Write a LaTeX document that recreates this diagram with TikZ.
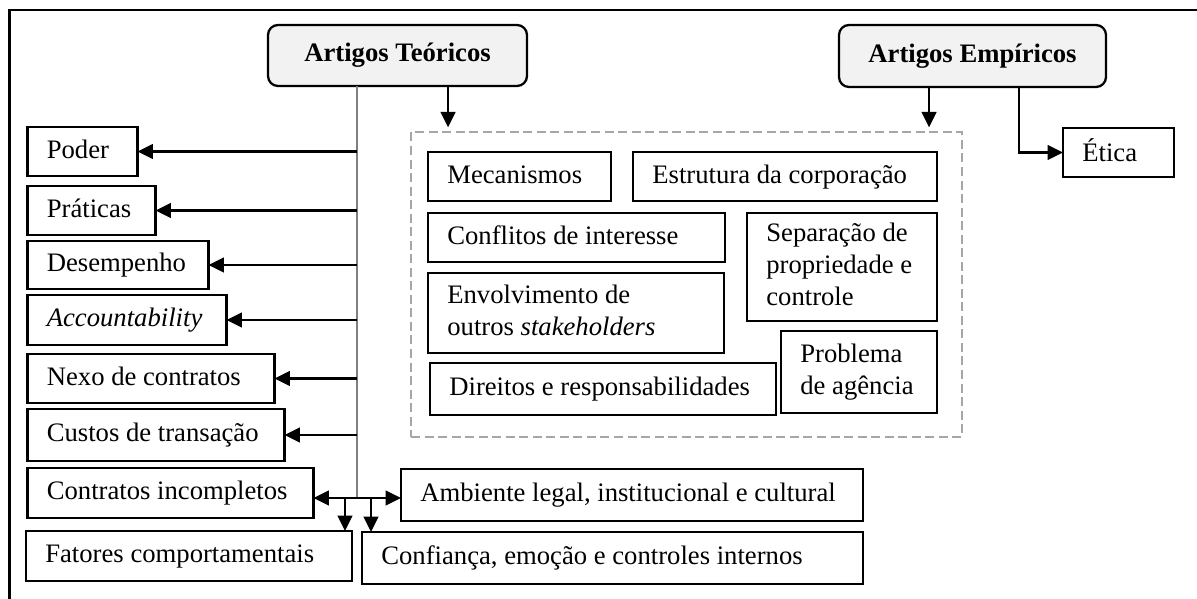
\documentclass[tikz,border=0pt]{standalone}
\usepackage{fontspec}
\setmainfont{Liberation Serif}[ItalicFont={Liberation Serif Italic},BoldFont={Liberation Serif Bold}]
\usetikzlibrary{arrows.meta}
\definecolor{hdfill}{HTML}{F2F2F2}
\definecolor{linegray}{HTML}{7F7F7F}
\definecolor{dashgray}{HTML}{A6A6A6}
\newcommand{\bst}{\rule[-4pt]{0pt}{18.2pt}}
\newcommand{\lb}[2]{\makebox[#1pt][l]{\bst #2}}
\newcommand{\mlb}[2]{\makebox[#1pt][l]{\begin{tabular}{@{}l@{}}#2\end{tabular}}}
\begin{document}
\begin{tikzpicture}[x=0.75pt,y=-0.75pt,
  every node/.style={font=\fontsize{20}{24}\selectfont},
  bx/.style={draw, line width=1.7pt, inner xsep=14.5pt, inner ysep=0pt, outer sep=0pt, anchor=north west, minimum height=36.75pt},
  hd/.style={draw, line width=1.7pt, rounded corners=7.5pt, fill=hdfill, inner sep=0pt, outer sep=0pt, anchor=north west, font=\fontsize{20}{24}\selectfont\bfseries},
  arr/.style={line width=1.6pt, -{Triangle[length=11.5pt,width=11pt]}},
  vline/.style={line width=1pt, draw=linegray},
  grpbox/.style={draw=dashgray, line width=1.6pt, dash pattern=on 6.75pt off 3.4pt, anchor=north west, inner sep=0pt, outer sep=0pt}
]
\useasboundingbox (0,0) rectangle (1197,599);
% frame
\draw[line width=1.7pt] (9.6,599) -- (9.6,10) -- (1197,10);

% headers
\node[hd, minimum width=194.25pt, minimum height=45.75pt] (teor) at (268,25) {\strut Artigos Teóricos};
\node[hd, minimum width=200.25pt, minimum height=46.5pt] (empir) at (839,25) {\strut Artigos Empíricos};

% group box
\node[grpbox, minimum width=413.25pt, minimum height=228.75pt] (grp) at (411,132) {};

% left column
\node[bx] (poder) at (27.5,127) {\lb{53.5}{Poder}};
\node[bx] (praticas) at (27.5,186) {\lb{67}{Práticas}};
\node[bx, minimum height=36pt] (desemp) at (27.5,241) {\lb{106.75}{Desempenho}};
\node[bx, minimum height=37.5pt] (account) at (27.5,295) {\lb{120.25}{\textit{Accountability}}};
\node[bx] (nexo) at (27.5,354) {\lb{156.25}{Nexo de contratos}};
\node[bx, minimum height=39pt] (custos) at (27.5,409) {\lb{163.75}{Custos de transação}};
\node[bx, minimum height=37.5pt] (contratos) at (27.5,468) {\lb{185.5}{Contratos incompletos}};
\node[bx, minimum height=37.5pt] (fatores) at (26,531) {\lb{215.5}{Fatores comportamentais}};
\node[bx, minimum height=39pt] (confianca) at (362,532) {\lb{346.75}{Confiança, emoção e controles internos}};
\node[bx, minimum height=39pt] (ambiente) at (401,469) {\lb{317.5}{Ambiente legal, institucional e cultural}};

% group contents
\node[bx] (mecan) at (428,152) {\lb{108.25}{Mecanismos}};
\node[bx] (estrut) at (633,152) {\lb{199}{Estrutura da corporação}};
\node[bx] (conflit) at (428,213) {\lb{193.75}{Conflitos de interesse}};
\node[bx, minimum height=81pt] (separ) at (747,213) {\mlb{113.5}{Separação de\\propriedade e\\controle}};
\node[bx, minimum height=60pt] (envol) at (428,273) {\mlb{193}{Envolvimento de\\outros \textit{stakeholders}}};
\node[bx, minimum height=39pt] (direit) at (430,363) {\lb{230.5}{Direitos e responsabilidades}};
\node[bx, minimum height=61.5pt] (problema) at (781,331) {\mlb{88}{Problema\\de agência}};

% etica
\node[bx] (etica) at (1063,128) {\lb{54.25}{Ética}};

% connectors
\coordinate (vbot) at (357,498);
\coordinate (a1) at (448,0);
\coordinate (a2) at (929,0);
\coordinate (ec) at (1019,0);
\coordinate (d1) at (345,498);
\coordinate (d2) at (371,498);

\draw[vline] (teor.south -| vbot) -- (vbot);
\foreach \n in {poder,praticas,desemp,account,nexo,custos}{
  \draw[arr] (vbot |- \n.east) -- (\n.east);
}
\draw[arr] (vbot) -- (contratos.east |- vbot);
\draw[arr] (vbot) -- (ambiente.west |- vbot);
\draw[arr] (d1) -- (d1 |- fatores.north);
\draw[arr] (d2) -- (d2 |- confianca.north);
\draw[arr] (teor.south -| a1) -- ([yshift=3.5pt]a1 |- grp.north);
\draw[arr] (empir.south -| a2) -- ([yshift=3.5pt]a2 |- grp.north);
\draw[arr] (empir.south -| ec) |- (etica.west);
\end{tikzpicture}
\end{document}
